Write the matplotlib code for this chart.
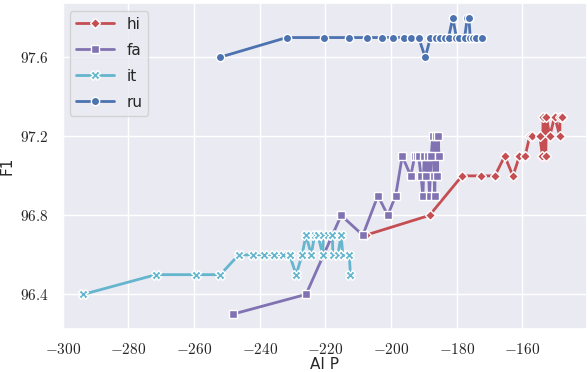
import numpy as np
import matplotlib
matplotlib.use("Agg")
import matplotlib.pyplot as plt
import seaborn as sns

sns.set_theme(style="darkgrid")
plt.rcParams["font.family"] = ["DejaVu Sans"]
plt.rcParams["mathtext.fontset"] = "cm"
plt.rcParams["axes.formatter.use_mathtext"] = True

# values
hi_x = [-207.7, -188.3, -178.4, -172.5, -168.4, -165.4, -162.9, -160.9, -159.2,
        -157.8, -157.1, -154.7, -153.9, -153.7, -152.9, -152.7, -151.7, -150.2,
        -148.6, -148.6, -147.9]
hi_y = [96.7, 96.8, 97.0, 97.0, 97.0, 97.1, 97.0, 97.1, 97.1,
        97.2, 97.2, 97.2, 97.1, 97.3, 97.1, 97.3, 97.2, 97.3,
        97.2, 97.3, 97.3]

fa_x = [-248.2, -225.9, -215.2, -208.6, -204.0, -201.0, -198.6, -196.6, -194.0,
        -192.8, -192.2, -191.6, -190.9, -190.3, -189.9, -189.3, -188.8, -188.3,
        -187.8, -187.3, -186.9, -186.7, -186.4, -185.9, -185.7, -185.4]
fa_y = [96.3, 96.4, 96.8, 96.7, 96.9, 96.8, 96.9, 97.1, 97.0,
        97.1, 97.1, 97.1, 97.0, 96.9, 97.1, 97.0, 97.1, 96.9,
        97.1, 97.2, 97.0, 96.9, 97.2, 97.0, 97.2, 97.1]

it_x = [-293.8, -271.6, -259.4, -252.0, -246.4, -242.1, -238.6, -235.5, -233.0,
        -230.9, -228.9, -227.1, -225.9, -224.3, -223.3, -222.3, -220.8, -220.6,
        -219.3, -217.9, -217.7, -216.2, -215.2, -214.7, -212.7, -212.4]
it_y = [96.4, 96.5, 96.5, 96.5, 96.6, 96.6, 96.6, 96.6, 96.6,
        96.6, 96.5, 96.6, 96.7, 96.6, 96.7, 96.7, 96.6, 96.7,
        96.7, 96.7, 96.6, 96.6, 96.7, 96.6, 96.6, 96.5]

ru_x = [-252.2, -231.8, -220.3, -212.7, -207.3, -202.8, -199.5, -196.2, -193.9,
        -191.6, -189.6, -188.0, -186.2, -185.0, -183.7, -182.5, -181.2, -180.1,
        -179.3, -177.6, -176.8, -176.3, -175.9, -175.1, -174.0, -172.2]
ru_y = [97.6, 97.7, 97.7, 97.7, 97.7, 97.7, 97.7, 97.7, 97.7,
        97.7, 97.6, 97.7, 97.7, 97.7, 97.7, 97.7, 97.8, 97.7,
        97.7, 97.7, 97.8, 97.8, 97.7, 97.7, 97.7, 97.7]

series = [
    ("hi", hi_x, hi_y, "#c44e52", "D", 5),
    ("fa", fa_x, fa_y, "#8172b2", "s", 6),
    ("it", it_x, it_y, "#64b5cd", "X", 6.5),
    ("ru", ru_x, ru_y, "#4c72b0", "o", 6),
]

fig = plt.figure(figsize=(5.88, 3.72), dpi=100)
ax = fig.add_axes([0.1054, 0.1156, 0.8926, 0.8764])

for name, xs, ys, c, m, ms in series:
    ax.plot(xs, ys, color=c, lw=2, marker=m, ms=ms, mec="white", mew=1,
            label=name)

ax.set_xlim(-300.2, -140.4)
ax.set_ylim(96.225, 97.875)
ax.set_xticks([-300, -280, -260, -240, -220, -200, -180, -160])
ax.set_yticks([96.4, 96.8, 97.2, 97.6])
ax.xaxis.set_major_formatter(plt.FuncFormatter(lambda v, p: r"$%d$" % v))
ax.yaxis.set_major_formatter(plt.FuncFormatter(lambda v, p: r"$%.1f$" % v))
ax.tick_params(labelsize=11)
ax.set_xlabel("AI P", fontsize=11, labelpad=0)
ax.set_ylabel("F1", fontsize=11, labelpad=4)
ax.legend(loc="upper left", fontsize=11, handlelength=2.5, labelspacing=0.72)

fig.savefig("out.png", dpi=100)
